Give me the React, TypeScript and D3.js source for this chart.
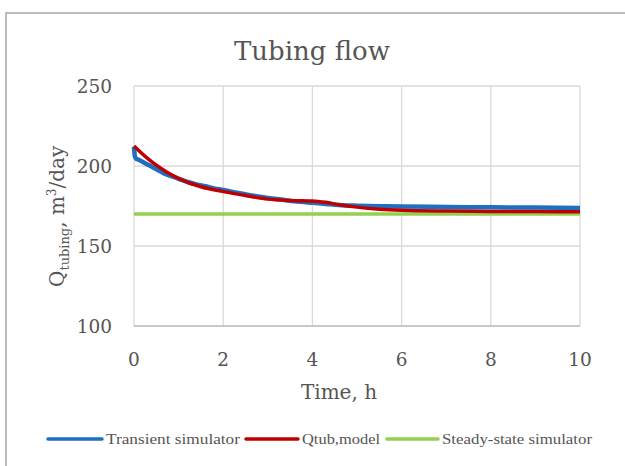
import React from "react";
import * as d3 from "d3";

// Tubing flow over time: transient simulator, analytical model and steady-state reference
const transientTime = [0, 0.02, 0.05, 0.1, 0.2, 0.3, 0.4, 0.5, 0.6, 0.7, 0.8, 0.9, 1.0, 1.2, 1.4, 1.6, 1.8, 2.0, 2.3, 2.6, 3.0, 3.3, 3.6, 4.0, 4.3, 4.6, 5.0, 5.5, 6, 7, 8, 9, 10];
const transientFlow = [212, 206, 204.5, 204, 202.5, 201, 199.5, 198, 196.5, 195, 194, 193, 192, 190, 188.5, 187.3, 186, 185, 183.3, 181.8, 180, 179, 178, 177, 176.3, 175.6, 175.2, 174.9, 174.7, 174.4, 174.2, 174, 173.8];

const modelTime = [0, 0.25, 0.5, 0.75, 1, 1.5, 2, 2.5, 3, 3.5, 4, 4.3, 4.6, 5, 5.5, 6, 7, 8, 9, 10];
const modelFlow = [212.5, 206, 200.5, 196, 192.3, 187, 184, 181.5, 179.3, 178.5, 178.2, 177.3, 175.8, 174.3, 173, 172.3, 171.8, 171.6, 171.5, 171.4];

const steadyTime = [0, 10];
const steadyFlow = [170, 170];

const xTicks = [0, 2, 4, 6, 8, 10];
const yTicks = [100, 150, 200, 250];

const legendItems = [
  { label: "Transient simulator", color: "#1f6fc1" },
  { label: "Qtub,model", color: "#c00000" },
  { label: "Steady-state simulator", color: "#92d050" },
];

const W = 625;
const H = 466;
const plot = { left: 134, right: 580, top: 86, bottom: 326 };
const serif = "'DejaVu Serif', serif";
const textColor = "#555555";

export default function App() {
  const x = d3.scaleLinear().domain([0, 10]).range([plot.left, plot.right]);
  const y = d3.scaleLinear().domain([100, 250]).range([plot.bottom, plot.top]);

  const line = d3
    .line<[number, number]>()
    .x((d) => x(d[0]))
    .y((d) => y(d[1]))
    .curve(d3.curveMonotoneX);

  const zip = (a: number[], b: number[]) => a.map((t, i) => [t, b[i]] as [number, number]);

  const legendLayout = [
    { x0: 48, x1: 102, tx: 106, tw: 134 },
    { x0: 246, x1: 298, tx: 302, tw: 78 },
    { x0: 387, x1: 438, tx: 442, tw: 150 },
  ];

  return (
    <svg
      width={W}
      height={H}
      style={{ position: "absolute", left: 0, top: 0, background: "#fff" }}
    >
      <rect x={6} y={13} width={W + 20} height={H + 20} fill="#fff" stroke="#a6a6a6" strokeWidth={1.5} />

      <text x={312} y={60} textAnchor="middle" fontFamily={serif} fontSize={26} fill={textColor}>
        Tubing flow
      </text>

      {/* grid */}
      {yTicks.map((t) => (
        <line key={"gy" + t} x1={plot.left} x2={plot.right} y1={y(t)} y2={y(t)} stroke="#d9d9d9" strokeWidth={1.3} />
      ))}
      {xTicks.map((t) => (
        <line key={"gx" + t} x1={x(t)} x2={x(t)} y1={plot.top} y2={plot.bottom} stroke="#d9d9d9" strokeWidth={1.3} />
      ))}
      <line x1={plot.left} x2={plot.right} y1={plot.bottom} y2={plot.bottom} stroke="#bfbfbf" strokeWidth={1.3} />

      {/* tick labels */}
      {yTicks.map((t) => (
        <text key={"ly" + t} x={112} y={y(t)} dy="0.36em" textAnchor="end" fontFamily={serif} fontSize={18.5} fill={textColor}>
          {t}
        </text>
      ))}
      {xTicks.map((t) => (
        <text key={"lx" + t} x={x(t)} y={359} dy="0.36em" textAnchor="middle" fontFamily={serif} fontSize={18.5} fill={textColor}>
          {t}
        </text>
      ))}

      {/* axis titles */}
      <text x={339} y={399} textAnchor="middle" fontFamily={serif} fontSize={20} fill={textColor}>
        Time, h
      </text>
      <text
        transform={`translate(64,287) rotate(-90)`}
        textAnchor="start"
        fontFamily={serif}
        fontSize={20}
        fill={textColor}
      >
        Q<tspan fontSize={13} dy={5}>tubing</tspan>
        <tspan dy={-5}>, m</tspan>
        <tspan fontSize={12} dy={-8}>3</tspan>
        <tspan dy={8}>/day</tspan>
      </text>

      {/* series */}
      <path d={line(zip(steadyTime, steadyFlow)) || ""} fill="none" stroke={legendItems[2].color} strokeWidth={3.5} />
      <path d={line(zip(transientTime, transientFlow)) || ""} fill="none" stroke={legendItems[0].color} strokeWidth={4.5} />
      <path d={line(zip(modelTime, modelFlow)) || ""} fill="none" stroke={legendItems[1].color} strokeWidth={3.5} />

      {/* legend */}
      {legendItems.map((item, i) => {
        const L = legendLayout[i];
        return (
          <g key={item.label}>
            <line x1={L.x0} x2={L.x1} y1={439} y2={439} stroke={item.color} strokeWidth={3.5} strokeLinecap="round" />
            <text
              x={L.tx}
              y={439}
              dy="0.35em"
              fontFamily="'Liberation Serif', serif"
              fontSize={14}
              fill={textColor}
              textLength={L.tw}
              lengthAdjust="spacingAndGlyphs"
            >
              {item.label}
            </text>
          </g>
        );
      })}
    </svg>
  );
}
